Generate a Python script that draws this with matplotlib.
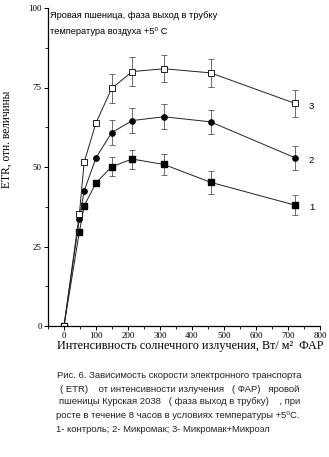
import matplotlib
matplotlib.use("Agg")
import matplotlib.pyplot as plt
from matplotlib.ticker import MultipleLocator

x = [0, 48, 63, 100, 149, 213, 312, 458, 722]
etr_control = [0, 29.6, 37.8, 45.0, 50.1, 52.5, 50.8, 45.2, 38.0]
err_control = [0, 0, 0, 0, 3.0, 3.0, 3.2, 3.6, 3.1]
etr_mikromak = [0, 33.7, 42.5, 52.9, 60.8, 64.6, 65.8, 64.2, 52.9]
err_mikromak = [0, 0, 0, 0, 4.0, 4.0, 4.0, 3.8, 3.7]
etr_mikroel = [0, 35.2, 51.5, 63.9, 74.7, 80.0, 80.9, 79.6, 70.0]
err_mikroel = [0, 0, 0, 0, 4.5, 4.5, 4.2, 4.3, 4.2]
curve_labels = ["1", "2", "3"]

W, H = 329, 457
fig = plt.figure(figsize=(W / 100, H / 100), dpi=100)
ax = fig.add_axes([48 / W, 1 - 326 / H, (320 - 48) / W, (326 - 8) / H])

serif = ["Liberation Serif", "DejaVu Serif"]
sans = ["Liberation Sans", "DejaVu Sans"]

common = dict(color="#222222", lw=0.7, elinewidth=0.6, ecolor="#555555",
              capsize=2.2, capthick=0.6, ms=3.8)
ax.errorbar(x, etr_control, yerr=err_control, fmt="-s", mfc="black", mec="black", **common)
ax.errorbar(x, etr_mikromak, yerr=err_mikromak, fmt="-o", mfc="black", mec="black", **common)
ax.errorbar(x, etr_mikroel, yerr=err_mikroel, fmt="-s", mfc="white", mec="black", mew=0.6, **common)

for lab, series in zip(curve_labels, [etr_control, etr_mikromak, etr_mikroel]):
    ax.annotate(lab, (x[-1], series[-1]), xytext=(10, -2), textcoords="offset points",
                fontsize=6.8, family=sans, va="center", ha="left")

ax.set_xlim(-50, 800)
ax.set_ylim(0, 100)
ax.xaxis.set_major_locator(MultipleLocator(100))
ax.xaxis.set_minor_locator(MultipleLocator(50))
ax.yaxis.set_major_locator(MultipleLocator(25))
ax.yaxis.set_minor_locator(MultipleLocator(12.5))
ax.spines["top"].set_visible(False)
ax.spines["right"].set_visible(False)
for s in ("left", "bottom"):
    ax.spines[s].set_linewidth(0.9)
ax.tick_params(which="major", direction="out", length=3, width=0.7, labelsize=6.5, pad=1.5)
ax.tick_params(which="minor", direction="out", length=2, width=0.6)
for t in ax.get_xticklabels() + ax.get_yticklabels():
    t.set_family(serif)

ax.set_xlabel("Интенсивность солнечного излучения, Вт/ м²  ФАР",
              fontsize=8.7, family=serif, labelpad=0)
ax.xaxis.set_label_coords((190 - 48) / 272, -0.045)

fig.text(7 / W, 1 - 188 / H, "ETR, отн. величины", rotation=90, fontsize=8.3,
         family=serif, ha="center", va="bottom")

fig.text(50 / W, 1 - 15 / H, "Яровая пшеница, фаза выход в трубку",
         fontsize=6.7, family=sans, va="center")
fig.text(50 / W, 1 - 31 / H, "температура воздуха +5⁰ С",
         fontsize=6.7, family=sans, va="center")

caption = [
    (57, 375, "Рис. 6. Зависимость скорости электронного транспорта"),
    (60, 389, "( ETR)    от интенсивности излучения   ( ФАР)   яровой"),
    (59, 402, "пшеницы Курская 2038   ( фаза выход в трубку)    , при"),
    (56, 416, "росте в течение 8 часов в условиях температуры +5⁰C."),
    (56, 429, "1- контроль; 2- Микромак; 3- Микромак+Микроэл"),
]
for cx, cy, txt in caption:
    fig.text(cx / W, 1 - cy / H, txt, fontsize=6.8, family=sans, va="center", ha="left",
             color="#222222")

fig.savefig("out.png", dpi=100)
